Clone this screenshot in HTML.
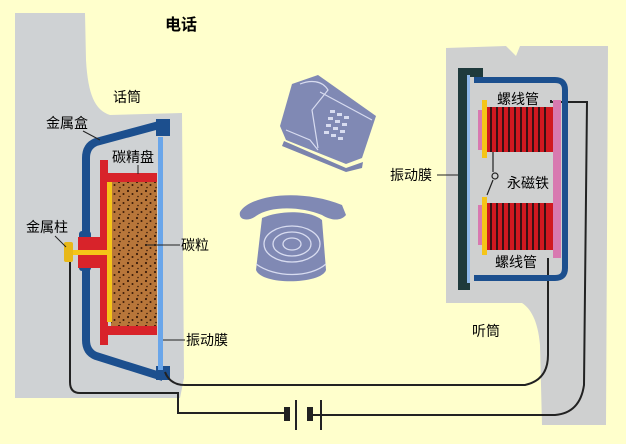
<!DOCTYPE html>
<html><head><meta charset="utf-8"><style>
html,body{margin:0;padding:0;background:#ffffcc;}
svg{display:block}
text{font-family:"Liberation Sans","Noto Sans CJK SC",sans-serif;font-size:14px;fill:#000}
</style></head><body>
<svg width="626" height="444" viewBox="0 0 626 444" xmlns="http://www.w3.org/2000/svg">
<rect width="626" height="444" fill="#ffffcc"/>
<defs>
<pattern id="dots" width="9" height="9" patternUnits="userSpaceOnUse">
<rect width="9" height="9" fill="#b8763a"/>
<circle cx="2" cy="2" r="1.1" fill="#3a1a08"/><circle cx="6.5" cy="5" r="1" fill="#3a1a08"/><circle cx="3" cy="7.5" r="0.8" fill="#3a1a08"/>
</pattern>
</defs>
<!-- left gray -->
<path d="M15 13 L85 13 L86 60 C88 95 95 110 110 115 L182 113 L184 378 L180 398 L15 398 Z" fill="#cfd2d4"/>
<!-- right gray -->
<path d="M446 48 L506 46 L516 56 L520 46 L608 46 L606 425 L542 425 L540 345 C538 320 530 308 522 303 L446 303 Z" fill="#cfd0d0"/>

<!-- mic -->
<path d="M163 124 L96 142 Q86 146 86 158 L86 233 M86 268 L86 340 Q86 352 96 356 L163 377" fill="none" stroke="#1c4f8e" stroke-width="8"/>
<rect x="79" y="231" width="12" height="40" rx="3" fill="#1c4f8e"/>
<rect x="156" y="119" width="14" height="17" fill="#1c4f8e"/>
<rect x="156" y="366" width="14" height="14" fill="#1c4f8e"/>
<rect x="111" y="182" width="46" height="145" fill="url(#dots)"/>
<rect x="100" y="160" width="8" height="185" fill="#d8232a"/>
<rect x="100" y="173" width="57" height="9" fill="#d8232a"/>
<rect x="100" y="326" width="57" height="9" fill="#d8232a"/>
<rect x="78" y="237" width="24" height="31" fill="#d8232a"/>
<rect x="107" y="182" width="5" height="140" fill="#f5c518"/>
<rect x="68" y="250" width="44" height="5" fill="#f5c518"/>
<rect x="64" y="242" width="9" height="20" rx="2" fill="#e8b818"/>
<rect x="158" y="137" width="5" height="233" fill="#6aa6ea"/>

<!-- leaders -->
<g stroke="#222" stroke-width="1" fill="none">
<line x1="83" y1="131" x2="100" y2="140"/>
<line x1="138" y1="165" x2="138" y2="174"/>
<line x1="55" y1="236" x2="66" y2="247"/>
<line x1="145" y1="245" x2="180" y2="245"/>
<line x1="163" y1="340" x2="185" y2="340"/>
<line x1="437" y1="175" x2="470" y2="175"/>
</g>

<!-- wires -->
<g stroke="#222" stroke-width="2" fill="none">
<path d="M70 262 L70 382 Q70 393 80 393 L178 393 L178 413 L285 413"/>
<path d="M312 415 L555 415 Q580 413 584 385 L587 102 L551 102 L551 100"/>
<path d="M165 372 Q170 385 185 385 L525 385 Q548 380 548 355 L548 258"/>
</g>
<rect x="284" y="407" width="6" height="14" fill="#222"/>
<rect x="295" y="400" width="2" height="30" fill="#222"/>
<rect x="307" y="407" width="6" height="14" fill="#222"/>
<rect x="320" y="400" width="2" height="30" fill="#222"/>

<!-- receiver -->
<path d="M474 80 L555 80 Q565 80 565 90 L565 268 Q565 278 555 278 L474 278" fill="none" stroke="#1c4f8e" stroke-width="6"/>
<rect x="458" y="70" width="9" height="220" fill="#1f3a3c"/>
<rect x="458" y="68" width="25" height="9" fill="#1f3a3c"/>
<rect x="458" y="280" width="12" height="10" fill="#1f3a3c"/>
<rect x="467" y="75" width="3" height="208" fill="#8fb8ea"/>
<rect x="553" y="100" width="8" height="158" fill="#d879b0"/>
<rect x="478" y="110" width="5" height="40" fill="#d879b0"/>
<rect x="478" y="205" width="5" height="40" fill="#d879b0"/>
<rect x="482" y="100" width="5" height="58" fill="#f5c518"/>
<rect x="482" y="197" width="5" height="58" fill="#f5c518"/>
<rect x="487" y="107" width="66" height="45" fill="#d01820"/>
<rect x="487" y="203" width="66" height="47" fill="#d01820"/>
<g stroke="#111" stroke-width="1.6">
<path d="M491 107V152M497 107V152M503 107V152M509 107V152M515 107V152M521 107V152M527 107V152M533 107V152M539 107V152M545 107V152"/>
<path d="M491 203V250M497 203V250M503 203V250M509 203V250M515 203V250M521 203V250M527 203V250M533 203V250M539 203V250M545 203V250"/>
</g>
<path d="M493 152 L493 172 M493 180 L487 195" stroke="#222" stroke-width="1.2" fill="none"/>
<circle cx="495" cy="176" r="3" fill="none" stroke="#222" stroke-width="1.2"/>

<!-- desk phone -->
<g fill="#8089b4">
<path d="M292 84 L318 75 L376 116 L362 158 L346 164 L286 140 L280 126 Z"/>
<path d="M284 141 L346 168 L363 162 L362 168 L346 172 L282 146 Z" fill="#7b84ad"/>
</g>
<g stroke="#d8dcf0" stroke-width="1.2" fill="none">
<path d="M300 84 C310 80 322 80 328 90 L312 110 L318 148"/>
<path d="M286 130 L310 140 L318 150"/>
<path d="M320 92 L372 120"/>
</g>
<g fill="#d8dcf0">
<rect x="330" y="110" width="5" height="3"/><rect x="337" y="113" width="5" height="3"/><rect x="344" y="116" width="5" height="3"/>
<rect x="328" y="117" width="5" height="3"/><rect x="335" y="120" width="5" height="3"/><rect x="342" y="123" width="5" height="3"/>
<rect x="326" y="124" width="5" height="3"/><rect x="333" y="127" width="5" height="3"/><rect x="340" y="130" width="5" height="3"/>
<rect x="324" y="131" width="5" height="3"/><rect x="331" y="134" width="5" height="3"/><rect x="338" y="137" width="5" height="3"/>
</g>
<!-- rotary phone -->
<g fill="#8089b4">
<path d="M240 212 C250 195 300 188 342 205 L346 215 C340 222 330 220 322 215 C300 206 270 206 256 216 C248 222 238 220 240 212 Z"/>
<path d="M262 218 C280 210 310 210 322 220 L326 270 C322 284 262 286 256 270 Z"/>
</g>
<g stroke="#d8dcf0" stroke-width="1.3" fill="none">
<ellipse cx="292" cy="244" rx="28" ry="18"/>
<ellipse cx="292" cy="244" rx="19" ry="12"/>
<ellipse cx="292" cy="244" rx="9" ry="6"/>
<path d="M256 264 C275 278 310 278 326 264"/>
</g>

<!-- labels -->
<text x="165" y="30" style="font-size:16px;font-weight:bold">电话</text>
<text x="113" y="102">话筒</text>
<text x="46" y="128">金属盒</text>
<text x="112" y="162">碳精盘</text>
<text x="26" y="232">金属柱</text>
<text x="181" y="250">碳粒</text>
<text x="186" y="345">振动膜</text>
<text x="497" y="104">螺线管</text>
<text x="390" y="180">振动膜</text>
<text x="507" y="188">永磁铁</text>
<text x="495" y="267">螺线管</text>
<text x="472" y="336">听筒</text>
</svg>
</body></html>
